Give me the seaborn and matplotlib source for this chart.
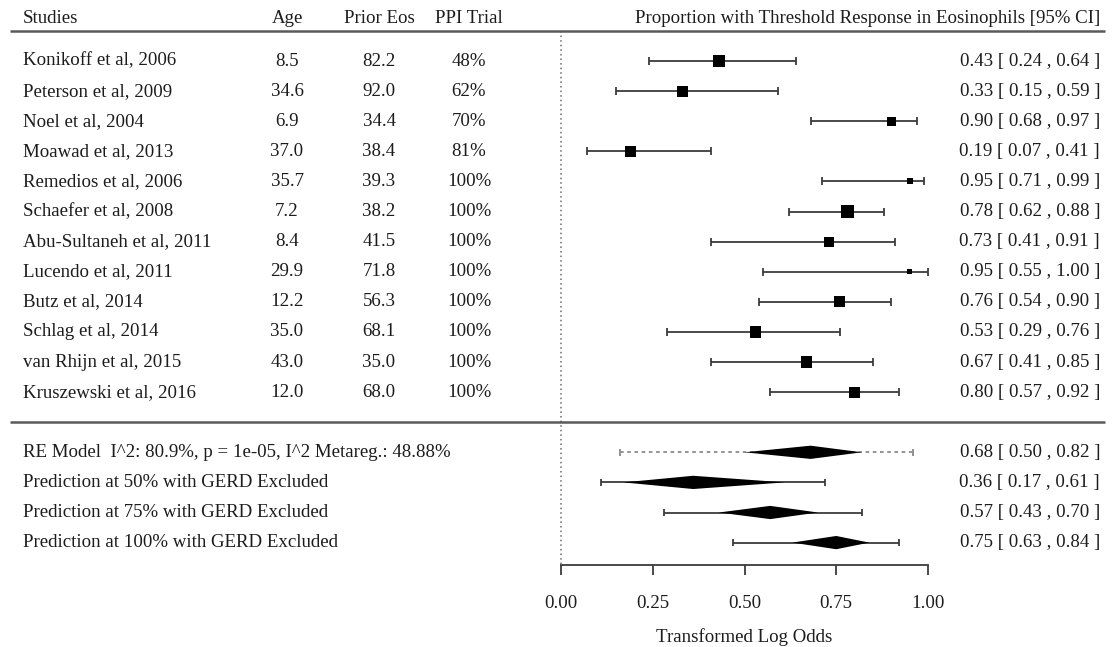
import numpy as np
import pandas as pd
import matplotlib
matplotlib.use("Agg")
import matplotlib.pyplot as plt
from matplotlib.transforms import blended_transform_factory
import seaborn as sns

# ---- data -------------------------------------------------------------
studies = [
    "Konikoff et al, 2006", "Peterson et al, 2009", "Noel et al, 2004",
    "Moawad et al, 2013", "Remedios et al, 2006", "Schaefer et al, 2008",
    "Abu-Sultaneh et al, 2011", "Lucendo et al, 2011", "Butz et al, 2014",
    "Schlag et al, 2014", "van Rhijn et al, 2015", "Kruszewski et al, 2016",
]
age = [8.5, 34.6, 6.9, 37.0, 35.7, 7.2, 8.4, 29.9, 12.2, 35.0, 43.0, 12.0]
prior_eos = [82.2, 92.0, 34.4, 38.4, 39.3, 38.2, 41.5, 71.8, 56.3, 68.1, 35.0, 68.0]
ppi_trial = [48, 62, 70, 81, 100, 100, 100, 100, 100, 100, 100, 100]
estimate = [0.43, 0.33, 0.90, 0.19, 0.95, 0.78, 0.73, 0.95, 0.76, 0.53, 0.67, 0.80]
ci_low = [0.24, 0.15, 0.68, 0.07, 0.71, 0.62, 0.41, 0.55, 0.54, 0.29, 0.41, 0.57]
ci_high = [0.64, 0.59, 0.97, 0.41, 0.99, 0.88, 0.91, 1.00, 0.90, 0.76, 0.85, 0.92]
weights = [9.2, 8.5, 6.9, 8.5, 4.6, 10.0, 7.7, 3.8, 8.5, 9.2, 8.5, 8.5]

summary_labels = [
    "RE Model  I^2: 80.9%, p = 1e-05, I^2 Metareg.: 48.88%",
    "Prediction at 50% with GERD Excluded",
    "Prediction at 75% with GERD Excluded",
    "Prediction at 100% with GERD Excluded",
]
summary_est = [0.68, 0.36, 0.57, 0.75]
summary_low = [0.50, 0.17, 0.43, 0.63]
summary_high = [0.82, 0.61, 0.70, 0.84]
pred_low = [0.16, 0.11, 0.28, 0.47]
pred_high = [0.96, 0.72, 0.82, 0.92]

x_ticks = [0.00, 0.25, 0.50, 0.75, 1.00]
x_label = "Transformed Log Odds"
col_headers = ["Studies", "Age", "Prior Eos", "PPI Trial",
               "Proportion with Threshold Response in Eosinophils [95% CI]"]

# ---- styling ----------------------------------------------------------
sns.set_theme(style="white")
plt.rcParams["font.family"] = ["Liberation Serif", "DejaVu Serif"]
TXT = "#1c1c1c"
LINE = "#3c3c3c"
FS = 13.6

W, H, DPI = 1113, 647, 100
fig = plt.figure(figsize=(W / DPI, H / DPI), dpi=DPI)
fig.patch.set_facecolor("white")

# row k sits at pixel 61 + 30.1*k from the top; axis line at pixel 565
ROW0, ROWH, AXIS_PX = 61.0, 30.1, 565.0
ax = fig.add_axes([561 / W, 1 - AXIS_PX / H, 367 / W, AXIS_PX / H])
ax.set_xlim(0, 1)
ax.set_ylim((AXIS_PX - ROW0) / ROWH, -ROW0 / ROWH)

n = len(studies)
rows = np.arange(n, dtype=float)
sum_rows = n + 1 + np.arange(len(summary_labels), dtype=float)
sep_row = float(n)
head_row = -1.4
head_line = -1.0

# ---- study estimates --------------------------------------------------
est = np.array(estimate)
lo = np.array(ci_low)
hi = np.array(ci_high)
ax.errorbar(est, rows, xerr=[est - lo, hi - est], fmt="none", ecolor=LINE,
            elinewidth=1.3, capsize=2.8, capthick=1.3, zorder=2, clip_on=False)

side_pt = np.array(weights) * 1.3 * 0.72
df = pd.DataFrame({"study": studies, "estimate": est, "row": rows})
sns.scatterplot(data=df, x="estimate", y="row", marker="s", s=side_pt ** 2,
                color="black", edgecolor="black", linewidth=0, legend=False,
                ax=ax, zorder=3, clip_on=False)

# ---- summary diamonds and prediction intervals -------------------------
half_h = 0.22
cap = 0.12
for i, y in enumerate(sum_rows):
    style = (0, (2.0, 2.0)) if i == 0 else "solid"
    col = "#8a8a8a" if i == 0 else LINE
    ax.hlines(y, pred_low[i], pred_high[i], colors=col, linestyles=style,
              linewidth=1.3, zorder=2, clip_on=False)
    ax.vlines([pred_low[i], pred_high[i]], y - cap, y + cap, colors=col,
              linewidth=1.3, zorder=2, clip_on=False)
    ax.fill([summary_low[i], summary_est[i], summary_high[i], summary_est[i]],
            [y, y - half_h, y, y + half_h], color="black", zorder=3,
            clip_on=False, linewidth=0)

# ---- reference line at zero -------------------------------------------
ax.vlines(0, head_line, ax.get_ylim()[0], colors="#6a6a6a",
          linestyles=(0, (1.0, 2.0)), linewidth=1.1, zorder=1, clip_on=False)

# ---- axis ---------------------------------------------------------------
sns.despine(ax=ax, left=True, top=True, right=True)
ax.spines["bottom"].set_bounds(0, 1)
ax.spines["bottom"].set_color(LINE)
ax.spines["bottom"].set_linewidth(1.3)
ax.set_yticks([])
ax.set_xticks(x_ticks)
ax.set_xticklabels([f"{t:.2f}" for t in x_ticks])
ax.tick_params(axis="x", bottom=True, direction="out", length=7.5, width=1.3,
               color=LINE, pad=14, labelsize=FS, labelcolor=TXT)
ax.set_xlabel(x_label, fontsize=FS, color=TXT, labelpad=12)
ax.set_ylabel("")
ax.grid(False)
ax.patch.set_alpha(0)

# ---- table text -------------------------------------------------------
tr = blended_transform_factory(fig.transFigure, ax.transData)
X_STUDY, X_AGE, X_EOS, X_PPI, X_RIGHT = 23 / W, 287 / W, 379 / W, 469 / W, 1100 / W

tkw = dict(transform=tr, fontsize=FS, color=TXT, va="center", clip_on=False)
ax.text(X_STUDY, head_row, col_headers[0], ha="left", **tkw)
ax.text(X_AGE, head_row, col_headers[1], ha="center", **tkw)
ax.text(X_EOS, head_row, col_headers[2], ha="center", **tkw)
ax.text(X_PPI, head_row, col_headers[3], ha="center", **tkw)
ax.text(X_RIGHT, head_row, col_headers[4], ha="right", **tkw)

for k in range(n):
    y = rows[k]
    ax.text(X_STUDY, y, studies[k], ha="left", **tkw)
    ax.text(X_AGE, y, f"{age[k]:.1f}", ha="center", **tkw)
    ax.text(X_EOS, y, f"{prior_eos[k]:.1f}", ha="center", **tkw)
    ax.text(X_PPI, y, f"{ppi_trial[k]}%", ha="center", **tkw)
    ax.text(X_RIGHT, y, f"{estimate[k]:.2f} [ {ci_low[k]:.2f} , {ci_high[k]:.2f} ]",
            ha="right", **tkw)

for i, y in enumerate(sum_rows):
    ax.text(X_STUDY, y, summary_labels[i], ha="left", **tkw)
    ax.text(X_RIGHT, y,
            f"{summary_est[i]:.2f} [ {summary_low[i]:.2f} , {summary_high[i]:.2f} ]",
            ha="right", **tkw)

# header rule and separator above the summary block
ax.hlines([head_line, sep_row], 10 / W, 1105 / W, transform=tr,
          colors="#5a5a5a", linewidth=1.8, clip_on=False)

fig.savefig("out.png", dpi=DPI, facecolor="white")
